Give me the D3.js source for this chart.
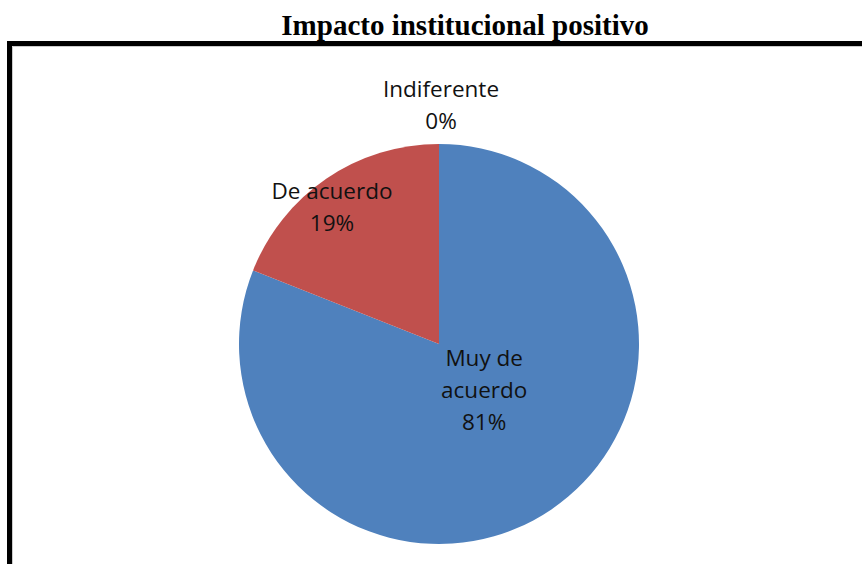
<!DOCTYPE html>
<html>
<head>
<meta charset="utf-8">
<script src="https://cdn.jsdelivr.net/npm/d3@7"></script>
<style>
  body { margin: 0; background: #fff; }
  svg { display: block; }
</style>
</head>
<body>
<div id="chart"></div>
<script>
var categories = ['Muy de acuerdo', 'De acuerdo', 'Indiferente'];
var values = [81, 19, 0];
var labelLines = [['Muy de', 'acuerdo', '81%'], ['De acuerdo', '19%'], ['Indiferente', '0%']];
var colors = ['#4F81BD', '#C0504D', '#9BBB59'];

var width = 862, height = 564;
var cx = 439, cy = 344, radius = 200;

var svg = d3.select('#chart').append('svg')
  .attr('width', width)
  .attr('height', height);

// title
svg.append('text')
  .attr('x', 465)
  .attr('y', 35)
  .attr('text-anchor', 'middle')
  .attr('font-family', '"Liberation Serif", "Times New Roman", serif')
  .attr('font-weight', 'bold')
  .attr('font-size', '29px')
  .attr('fill', '#000')
  .text('Impacto institucional positivo');

// frame (top and left edges, cut by the page)
svg.append('path')
  .attr('d', 'M9.5,' + height + ' V43.5 H' + width)
  .attr('fill', 'none')
  .attr('stroke', '#000')
  .attr('stroke-width', 5);
svg.append('path')
  .attr('d', 'M12.5,' + height + ' V46.5 H' + width)
  .attr('fill', 'none')
  .attr('stroke', '#ccc')
  .attr('stroke-width', 1);

var pie = d3.pie().sort(null).value(function(d) { return d; });
var arcs = pie(values);
var arc = d3.arc().innerRadius(0).outerRadius(radius);

var g = svg.append('g').attr('transform', 'translate(' + cx + ',' + cy + ')');

g.selectAll('path.slice')
  .data(arcs)
  .enter().append('path')
  .attr('class', 'slice')
  .attr('d', arc)
  .attr('fill', function(d, i) { return colors[i]; });

// label radius and nudges per slice (Excel places them by hand-ish)
var labelRadius = [75, 170, 231];
var nudge = [[3, -16], [-11.5, 4], [2, -8]];
var lineH = 32;

g.selectAll('text.lbl')
  .data(arcs)
  .enter().append('text')
  .attr('class', 'lbl')
  .attr('text-anchor', 'middle')
  .attr('font-family', '"Open Sans", Carlito, Lato, sans-serif')
  .attr('font-size', '22.5px')
  .attr('fill', '#111')
  .each(function(d, i) {
    var a = (d.startAngle + d.endAngle) / 2;
    var x = Math.sin(a) * labelRadius[i] + nudge[i][0];
    var y = -Math.cos(a) * labelRadius[i] + nudge[i][1];
    var lines = labelLines[i];
    var y0 = y - (lines.length - 1) * lineH / 2 + 8;
    var t = d3.select(this);
    lines.forEach(function(l, k) {
      t.append('tspan')
        .attr('x', x)
        .attr('y', y0 + k * lineH)
        .text(l);
    });
  });
</script>
</body>
</html>
